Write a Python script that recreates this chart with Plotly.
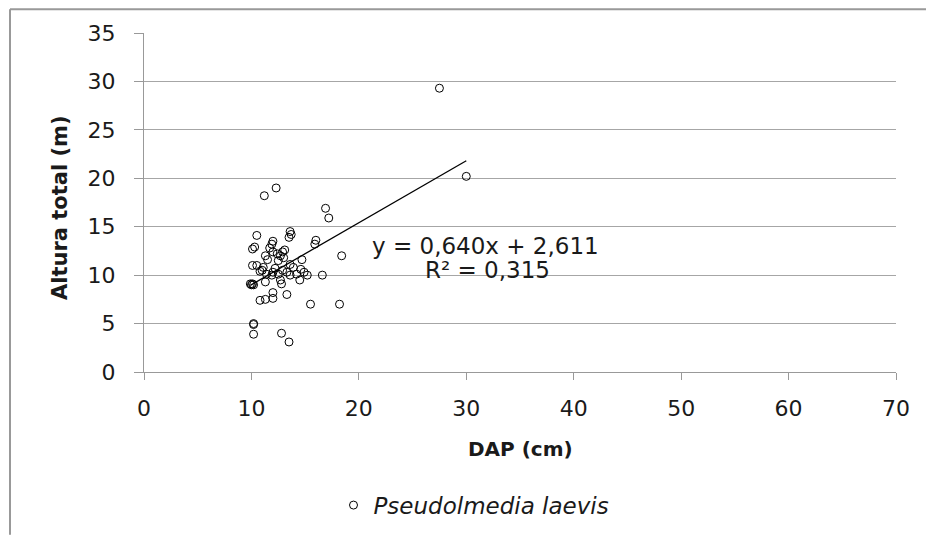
import plotly.graph_objects as go

# Data
dap = [27.5, 30.0, 11.2, 12.3, 16.9, 17.2, 13.6, 13.7, 13.5, 10.5,
       12.0, 11.9, 11.7, 10.3, 10.1, 13.1, 12.9, 12.0, 12.4, 12.7,
       16.0, 15.9, 18.4, 14.7, 10.1, 10.5, 11.1, 11.0, 13.6, 13.9,
       12.9, 13.3, 14.2, 12.0, 11.9, 10.8, 11.4, 12.5, 13.6, 14.9,
       15.2, 16.6, 14.5, 10.1, 10.0, 9.9, 10.2, 11.3, 12.8, 12.7,
       12.0, 13.3, 12.0, 11.3, 10.8, 15.5, 18.2, 10.2, 10.2, 10.2,
       12.8, 13.5, 11.3, 11.5, 12.5, 13.0, 12.2, 14.6]
altura = [29.3, 20.2, 18.2, 19.0, 16.9, 15.9, 14.5, 14.2, 13.9, 14.1,
          13.5, 13.2, 12.8, 12.9, 12.7, 12.6, 12.4, 12.4, 12.2, 12.0,
          13.6, 13.2, 12.0, 11.6, 11.0, 11.0, 10.8, 10.5, 11.1, 10.8,
          10.5, 10.3, 10.1, 10.3, 10.0, 10.4, 10.1, 10.1, 10.0, 10.3,
          10.0, 10.0, 9.5, 9.1, 9.0, 9.1, 9.0, 9.3, 9.1, 9.5,
          8.2, 8.0, 7.6, 7.5, 7.4, 7.0, 7.0, 5.0, 4.9, 3.9,
          4.0, 3.1, 12.0, 11.6, 11.5, 11.8, 10.7, 10.6]

slope = 0.640
intercept = 2.611
r2 = 0.315

x_ticks = [0, 10, 20, 30, 40, 50, 60, 70]
y_ticks = [0, 5, 10, 15, 20, 25, 30, 35]

species = "Pseudolmedia laevis"

FONT = "DejaVu Sans"
TXT = "#1a1a1a"

xmin, xmax = min(dap), max(dap)
trend_x = [xmin, xmax]
trend_y = [slope * v + intercept for v in trend_x]

fig = go.Figure()
fig.add_trace(go.Scatter(
    x=dap, y=altura, mode="markers", name=species,
    marker=dict(symbol="circle-open", size=8, color="black",
                line=dict(width=1, color="black")),
    showlegend=True,
))
fig.add_trace(go.Scatter(
    x=trend_x, y=trend_y, mode="lines",
    line=dict(color="black", width=1.3), showlegend=False, hoverinfo="skip",
))

eq = "y = " + f"{slope:.3f}".replace(".", ",") + "x + " + f"{intercept:.3f}".replace(".", ",")
r2txt = "R² = " + f"{r2:.3f}".replace(".", ",")

fig.add_annotation(x=31.8, y=13.0, text=eq, showarrow=False,
                   font=dict(family=FONT, size=23, color=TXT), xanchor="center", yanchor="middle")
fig.add_annotation(x=32.0, y=10.5, text=r2txt, showarrow=False,
                   font=dict(family=FONT, size=23, color=TXT), xanchor="center", yanchor="middle")

# axis titles
fig.add_annotation(xref="paper", yref="paper", x=-0.112, y=(375.5 - 209) / 342.5, text="<b>Altura total (m)</b>",
                   textangle=-90, showarrow=False, xanchor="center", yanchor="middle",
                   font=dict(family=FONT, size=21, color=TXT))
fig.add_annotation(xref="paper", yref="paper", x=0.5, y=(375.5 - 453) / 342.5, text="<b>DAP (cm)</b>",
                   showarrow=False, xanchor="center", yanchor="middle",
                   font=dict(family=FONT, size=20, color=TXT))

# outer frame lines (top & left)
fig.add_shape(type="line", xref="paper", yref="paper",
              x0=(10 - 144) / 752, x1=(926 - 144) / 752, y0=(375.5 - 9) / 342.5, y1=(375.5 - 9) / 342.5,
              line=dict(color="#999999", width=2))
fig.add_shape(type="line", xref="paper", yref="paper",
              x0=(10 - 144) / 752, x1=(10 - 144) / 752, y0=(375.5 - 9) / 342.5, y1=(375.5 - 540) / 342.5,
              line=dict(color="#999999", width=2))

fig.update_layout(
    width=926, height=538,
    margin=dict(l=144, r=30, t=33, b=162.5),
    paper_bgcolor="white", plot_bgcolor="white",
    font=dict(family=FONT, size=22, color=TXT),
    showlegend=True,
    legend=dict(x=(474 - 144) / 752, y=(375.5 - 510) / 342.5, xanchor="center", yanchor="middle",
                orientation="h", itemwidth=30,
                font=dict(family=FONT, size=23, color=TXT, style="italic"),
                bgcolor="rgba(0,0,0,0)"),
    xaxis=dict(range=[0, 70], tickvals=x_ticks, showgrid=False, zeroline=False,
               showline=True, linecolor="#999999", linewidth=1,
               ticks="outside", ticklen=7, tickcolor="#999999", ticklabelstandoff=10,
               tickfont=dict(family=FONT, size=22, color=TXT)),
    yaxis=dict(range=[0, 35], tickvals=y_ticks, showgrid=True, gridcolor="#a6a6a6", gridwidth=1,
               zeroline=False, showline=True, linecolor="#999999", linewidth=1,
               ticks="outside", ticklen=9, tickcolor="#999999", ticklabelstandoff=14,
               tickfont=dict(family=FONT, size=22, color=TXT)),
)

fig.write_html("out.html")
